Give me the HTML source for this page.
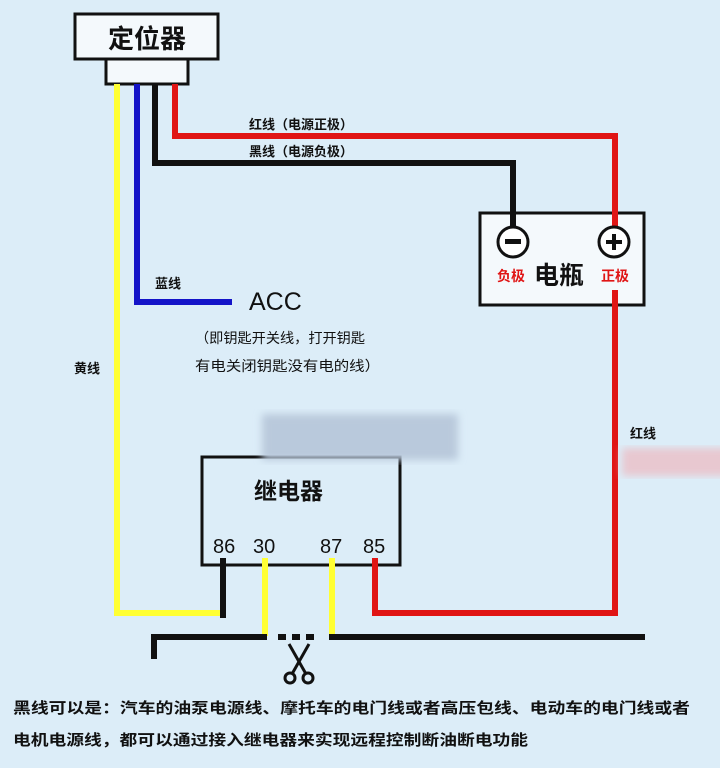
<!DOCTYPE html>
<html><head><meta charset="utf-8"><style>
html,body{margin:0;padding:0;background:#dcedf8;}
svg{display:block}
text{font-family:"Liberation Sans","Noto Sans CJK SC",sans-serif;fill:#111;}
</style></head><body>
<svg width="720" height="768" viewBox="0 0 720 768" xmlns="http://www.w3.org/2000/svg">
<defs><filter id="b"><feGaussianBlur stdDeviation="4"/></filter></defs>
<rect width="720" height="768" fill="#dcedf8"/>
<rect x="75" y="14" width="143" height="45" fill="#f4f9fc" stroke="#111" stroke-width="3"/>
<text x="147" y="48" font-size="26" font-weight="bold" text-anchor="middle">定位器</text>
<rect x="106" y="59" width="82" height="25" fill="#f4f9fc" stroke="#111" stroke-width="3"/>
<polyline points="117,84 117,613 223,613" fill="none" stroke="#ffff33" stroke-width="6"/>
<polyline points="137,84 137,302 232,302" fill="none" stroke="#1414c8" stroke-width="6"/>
<polyline points="155,84 155,163 513,163 513,228" fill="none" stroke="#111" stroke-width="6"/>
<polyline points="175,84 175,136 615,136 615,228" fill="none" stroke="#e01515" stroke-width="6"/>
<rect x="480" y="213" width="164" height="92" fill="#f4f9fc" stroke="#111" stroke-width="3"/>
<polyline points="513,163 513,228" fill="none" stroke="#111" stroke-width="6"/>
<polyline points="615,200 615,228" fill="none" stroke="#e01515" stroke-width="6"/>
<circle cx="513" cy="242" r="15" fill="#fff" stroke="#111" stroke-width="3"/>
<rect x="505" y="239" width="16" height="5" fill="#111"/>
<circle cx="614" cy="242" r="15" fill="#fff" stroke="#111" stroke-width="3"/>
<rect x="606" y="240" width="16" height="4" fill="#111"/><rect x="612" y="234" width="4" height="16" fill="#111"/>
<text x="497" y="281" font-size="14" font-weight="bold" style="fill:#e01515">负极</text>
<text x="534" y="284" font-size="25" font-weight="bold">电瓶</text>
<text x="601" y="281" font-size="14" font-weight="bold" style="fill:#e01515">正极</text>
<polyline points="615,290 615,613 375,613 375,560" fill="none" stroke="#e01515" stroke-width="6"/>
<text x="249" y="129" font-size="13" font-weight="bold">红线（电源正极）</text>
<text x="249" y="156" font-size="13" font-weight="bold">黑线（电源负极）</text>
<text x="155" y="288" font-size="13" font-weight="bold">蓝线</text>
<text x="249" y="310" font-size="25">ACC</text>
<text x="195" y="343" font-size="14" textLength="170" lengthAdjust="spacingAndGlyphs">（即钥匙开关线，打开钥匙</text>
<text x="195" y="371" font-size="14" textLength="185" lengthAdjust="spacingAndGlyphs">有电关闭钥匙没有电的线）</text>
<text x="74" y="373" font-size="13" font-weight="bold">黄线</text>
<text x="630" y="438" font-size="13" font-weight="bold">红线</text>
<rect x="622" y="448" width="110" height="28" fill="#e8c8d0" filter="url(#b)"/>
<rect x="202" y="457" width="198" height="108" fill="#dcedf8" stroke="#111" stroke-width="3"/>
<rect x="262" y="414" width="196" height="46" fill="#b9c9dc" filter="url(#b)"/>
<text x="254" y="499" font-size="23" font-weight="bold">继电器</text>
<text x="213" y="553" font-size="20">86</text>
<text x="253" y="553" font-size="20">30</text>
<text x="320" y="553" font-size="20">87</text>
<text x="363" y="553" font-size="20">85</text>
<line x1="223" y1="558" x2="223" y2="618" stroke="#111" stroke-width="6"/>
<line x1="265" y1="558" x2="265" y2="636" stroke="#ffff33" stroke-width="6"/>
<line x1="332" y1="558" x2="332" y2="636" stroke="#ffff33" stroke-width="6"/>
<line x1="375" y1="558" x2="375" y2="616" stroke="#e01515" stroke-width="6"/>
<polyline points="154,659 154,637 267,637" fill="none" stroke="#111" stroke-width="6"/>
<line x1="329" y1="637" x2="645" y2="637" stroke="#111" stroke-width="6"/>
<rect x="278" y="634" width="8" height="6" fill="#111"/><rect x="292" y="634" width="8" height="6" fill="#111"/><rect x="306" y="634" width="8" height="6" fill="#111"/>
<line x1="289" y1="644" x2="306" y2="674" stroke="#111" stroke-width="3"/>
<line x1="309" y1="644" x2="292" y2="674" stroke="#111" stroke-width="3"/>
<circle cx="290" cy="678" r="5" fill="none" stroke="#111" stroke-width="3"/>
<circle cx="308" cy="678" r="5" fill="none" stroke="#111" stroke-width="3"/>
<text x="13" y="713" font-size="15" font-weight="bold" textLength="677" lengthAdjust="spacingAndGlyphs">黑线可以是：汽车的油泵电源线、摩托车的电门线或者高压包线、电动车的电门线或者</text>
<text x="13" y="745" font-size="15" font-weight="bold" textLength="515" lengthAdjust="spacingAndGlyphs">电机电源线，都可以通过接入继电器来实现远程控制断油断电功能</text>
</svg>
</body></html>
